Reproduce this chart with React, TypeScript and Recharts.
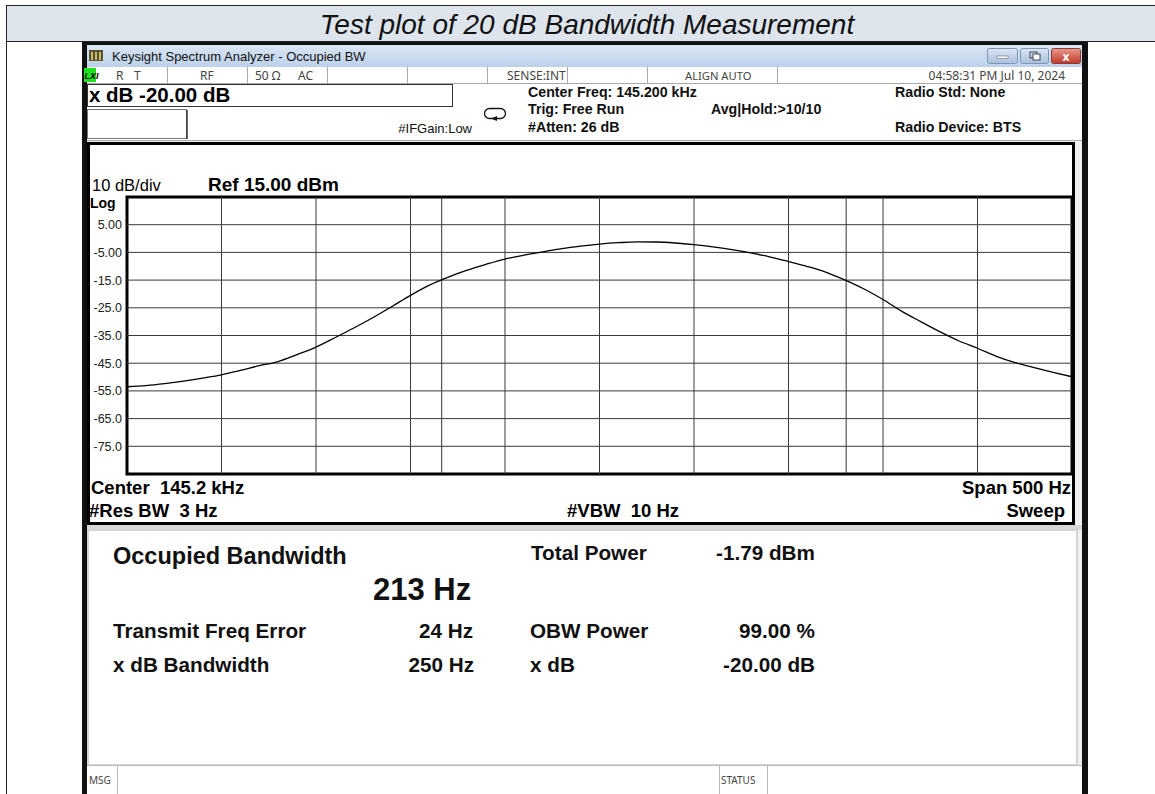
import React from "react";
import { Line, LineChart, ReferenceArea, ReferenceLine, XAxis, YAxis } from "recharts";

// trace (offset from 145.2 kHz centre, Hz -> dBm)
const freqOffsets = [
  -250, -240, -230, -220, -210, -200, -190, -180, -170, -160, -150, -140, -130,
  -120, -110, -100, -90, -80, -70, -60, -50, -40, -30, -20, -10, 0, 10, 20, 30,
  40, 50, 60, 70, 80, 90, 100, 110, 120, 130, 140, 150, 160, 170, 180, 190, 200,
  210, 220, 230, 240, 250,
];
const traceLevels = [
  -53.5, -53.1, -52.4, -51.5, -50.4, -49.2, -47.6, -45.9, -44.4, -41.9, -39.2,
  -35.8, -32.3, -28.6, -24.6, -20.5, -16.8, -13.9, -11.4, -9.3, -7.4, -6.0,
  -4.8, -3.6, -2.7, -2.0, -1.5, -1.2, -1.25, -1.6, -2.2, -3.0, -4.0, -5.2,
  -6.6, -8.3, -10.1, -12.2, -15.0, -18.2, -22.0, -26.3, -30.0, -33.6, -36.9,
  -39.6, -42.5, -44.8, -46.6, -48.3, -49.9,
];

const yTicks = [5, -5, -15, -25, -35, -45, -55, -65, -75];
const yTickLabels = ["5.00", "-5.00", "-15.0", "-25.0", "-35.0", "-45.0", "-55.0", "-65.0", "-75.0"];
const xGrid = [-200, -150, -100, -50, 0, 50, 100, 150, 200];
const obwEdges = [-83.5, 130.5];
const refLevel = 15;
const bottomLevel = -85;
const halfSpan = 250;

const statusSeparators = [167, 247, 327, 407, 487, 567, 647, 777];

const data = freqOffsets.map((f, i) => ({ freq: f, level: traceLevels[i] }));

const ARIAL = '"Liberation Sans", Arial, sans-serif';
const UI = '"Noto Sans", "DejaVu Sans", sans-serif';
const pre = { whiteSpace: "pre" as const };

function Chrome() {
  return (
    <svg width={1155} height={794} style={{ position: "absolute", left: 0, top: 0 }}>
      <defs>
        <linearGradient id="tb" x1="0" y1="0" x2="0" y2="1">
          <stop offset="0" stopColor="#d9e6f4" />
          <stop offset="1" stopColor="#bcd1e9" />
        </linearGradient>
        <linearGradient id="btn" x1="0" y1="0" x2="0" y2="1">
          <stop offset="0" stopColor="#dbe6f3" />
          <stop offset="1" stopColor="#a9c0dc" />
        </linearGradient>
        <linearGradient id="cls" x1="0" y1="0" x2="0" y2="1">
          <stop offset="0" stopColor="#e79a8c" />
          <stop offset="1" stopColor="#c2382a" />
        </linearGradient>
      </defs>
      <rect x={0} y={0} width={1155} height={794} fill="#fff" />

      {/* document title band */}
      <rect x={6.5} y={5.5} width={1160} height={36} fill="#dde4eb" stroke="#222" />
      <text x={587} y={34} textAnchor="middle" fontFamily={ARIAL} fontStyle="italic" fontSize={28} fill="#111">
        Test plot of 20 dB Bandwidth Measurement
      </text>
      <line x1={6.5} y1={42} x2={6.5} y2={794} stroke="#222" />

      {/* analyzer window */}
      <rect x={82} y={42} width={1006} height={760} fill="#f0f0f0" />
      <rect x={82} y={42} width={1006} height={3} fill="#111" />
      <rect x={82} y={42} width={5} height={752} fill="#111" />
      <rect x={1082} y={42} width={6} height={752} fill="#111" />
      <rect x={87} y={45} width={995} height={22} fill="url(#tb)" />
      <rect x={89} y={50} width={14} height={11} fill="#5b5230" />
      <rect x={91} y={52} width={2} height={8} fill="#c9b56a" />
      <rect x={95} y={52} width={2} height={8} fill="#c9b56a" />
      <rect x={99} y={52} width={2} height={8} fill="#c9b56a" />
      <text x={112} y={61} fontFamily={ARIAL} fontSize={13} fill="#111">
        Keysight Spectrum Analyzer - Occupied BW
      </text>
      <rect x={987.5} y={48.5} width={30} height={15} rx={2} fill="url(#btn)" stroke="#7f95b3" />
      <rect x={997} y={56} width={11} height={2.5} fill="#fff" stroke="#556" strokeWidth={0.5} />
      <rect x={1020.5} y={48.5} width={28} height={15} rx={2} fill="url(#btn)" stroke="#7f95b3" />
      <rect x={1030} y={52} width={7} height={6} fill="none" stroke="#445" />
      <rect x={1033} y={54} width={7} height={6} fill="#fff" stroke="#445" />
      <rect x={1051.5} y={48.5} width={29} height={15} rx={2} fill="url(#cls)" stroke="#8e3a30" />
      <text x={1066} y={60.5} textAnchor="middle" fontFamily={UI} fontWeight="bold" fontSize={12} fill="#fff">
        x
      </text>

      {/* status row */}
      <rect x={87} y={67} width={995} height={16} fill="#fff" />
      <line x1={87} y1={83.5} x2={1082} y2={83.5} stroke="#aaa" />
      {statusSeparators.map((x) => (
        <line key={x} x1={x + 0.5} y1={67} x2={x + 0.5} y2={83} stroke="#aaa" />
      ))}
      <rect x={84} y={68} width={12} height={14} fill="#1ee21e" />
      <text x={84.5} y={79} fontFamily={ARIAL} fontStyle="italic" fontWeight="bold" fontSize={9} fill="#000">
        LXI
      </text>
      <g fontFamily={UI} fontSize={12} fill="#444">
        <text x={116} y={80}>R</text>
        <text x={134} y={80}>T</text>
        <text x={200} y={80}>RF</text>
        <text x={255} y={80}>50 Ω</text>
        <text x={298} y={80}>AC</text>
        <text x={507} y={80}>SENSE:INT</text>
        <text x={685} y={80} fontSize={11.2}>ALIGN AUTO</text>
        <text x={1065} y={80} textAnchor="end">04:58:31 PM Jul 10, 2024</text>
      </g>

      {/* header panel */}
      <rect x={87} y={84} width={995} height={57} fill="#fff" />
      <rect x={87.5} y={84.5} width={365} height={22} fill="#fff" stroke="#333" />
      <text x={89} y={102} fontFamily={ARIAL} fontWeight="bold" fontSize={20.5} fill="#000">
        x dB -20.00 dB
      </text>
      <rect x={87.5} y={109.5} width={99} height={29} fill="#fff" stroke="#777" />
      <line x1={187} y1={110} x2={187} y2={139} stroke="#333" strokeWidth={1.5} />
      <text x={472} y={133} textAnchor="end" fontFamily={ARIAL} fontSize={13} fill="#111">
        #IFGain:Low
      </text>
      <rect x={484.5} y={108.5} width={21} height={10} rx={5} fill="none" stroke="#111" strokeWidth={1.3} />
      <path d="M491 118.5 L497 116 L497 121 Z" fill="#111" />
      <g fontFamily={ARIAL} fontWeight="bold" fontSize={14.2} fill="#111">
        <text x={528} y={97}>Center Freq: 145.200 kHz</text>
        <text x={528} y={114}>Trig: Free Run</text>
        <text x={528} y={132}>#Atten: 26 dB</text>
        <text x={711} y={114}>Avg|Hold:&gt;10/10</text>
        <text x={895} y={97}>Radio Std: None</text>
        <text x={895} y={132}>Radio Device: BTS</text>
      </g>
      <line x1={87} y1={140.5} x2={1082} y2={140.5} stroke="#aaa" />

      {/* graph frame */}
      <rect x={88.5} y={143.5} width={985} height={380} fill="#fff" stroke="#000" strokeWidth={3} />
      <text x={92} y={191} fontFamily={ARIAL} fontSize={16.5} fill="#000">10 dB/div</text>
      <text x={208} y={191} fontFamily={ARIAL} fontWeight="bold" fontSize={19} fill="#000">Ref 15.00 dBm</text>
      <text x={90} y={208} fontFamily={ARIAL} fontWeight="bold" fontSize={14} fill="#000">Log</text>
      <g fontFamily={ARIAL} fontWeight="bold" fontSize={18.5} fill="#000">
        <text x={91} y={494} style={pre}>Center  145.2 kHz</text>
        <text x={89} y={517} style={pre}>#Res BW  3 Hz</text>
        <text x={567} y={517} style={pre}>#VBW  10 Hz</text>
        <text x={1071} y={494} textAnchor="end">Span 500 Hz</text>
        <text x={1065} y={517} textAnchor="end">Sweep</text>
      </g>

      {/* results panel */}
      <rect x={87} y={525} width={995} height={5} fill="#d8d8d8" />
      <rect x={88} y={530} width={989} height={235} fill="#fff" stroke="#d4d4d4" strokeWidth={2} />
      <g fontFamily={ARIAL} fontWeight="bold" fill="#111">
        <text x={113} y={564} fontSize={23.5}>Occupied Bandwidth</text>
        <text x={373} y={600} fontSize={31}>213 Hz</text>
        <text x={531} y={560} fontSize={20.7}>Total Power</text>
        <text x={716} y={560} fontSize={20.7}>-1.79 dBm</text>
        <text x={113} y={638} fontSize={20.7}>Transmit Freq Error</text>
        <text x={473} y={638} fontSize={20.7} textAnchor="end">24 Hz</text>
        <text x={530} y={638} fontSize={20.7}>OBW Power</text>
        <text x={815} y={638} fontSize={20.7} textAnchor="end">99.00 %</text>
        <text x={113} y={672} fontSize={20.7}>x dB Bandwidth</text>
        <text x={474} y={672} fontSize={20.7} textAnchor="end">250 Hz</text>
        <text x={530} y={672} fontSize={20.7}>x dB</text>
        <text x={815} y={672} fontSize={20.7} textAnchor="end">-20.00 dB</text>
      </g>

      {/* message bar */}
      <rect x={87} y={766} width={995} height={28} fill="#fff" />
      <line x1={87} y1={765.5} x2={1082} y2={765.5} stroke="#bbb" />
      <line x1={117.5} y1={766} x2={117.5} y2={794} stroke="#bbb" />
      <line x1={719.5} y1={766} x2={719.5} y2={794} stroke="#bbb" />
      <line x1={767.5} y1={766} x2={767.5} y2={794} stroke="#bbb" />
      <text x={89} y={784} fontFamily={UI} fontSize={10} fill="#444">MSG</text>
      <text x={721} y={784} fontFamily={UI} fontSize={10} fill="#444">STATUS</text>
    </svg>
  );
}

export default function App() {
  return (
    <div style={{ position: "absolute", left: 0, top: 0, width: 1155, height: 794, overflow: "hidden" }}>
      <Chrome />
      <div style={{ position: "absolute", left: 87, top: 192 }}>
        <LineChart width={988} height={287} data={data} margin={{ top: 5, right: 3, bottom: 5, left: 0 }}>
          <XAxis dataKey="freq" type="number" domain={[-halfSpan, halfSpan]} hide allowDataOverflow />
          <YAxis
            type="number"
            domain={[bottomLevel, refLevel]}
            ticks={yTicks}
            width={40}
            axisLine={false}
            tickLine={false}
            tickSize={3}
            tickMargin={2}
            interval={0}
            allowDataOverflow
            tickFormatter={(v: number) => yTickLabels[yTicks.indexOf(v)] ?? ""}
            tick={{ fontSize: 12.5, fill: "#222", fontFamily: ARIAL }}
          />
          {yTicks.map((y) => (
            <ReferenceLine key={`h${y}`} y={y} stroke="#3a3a3a" strokeWidth={1} />
          ))}
          {xGrid.map((x) => (
            <ReferenceLine key={`v${x}`} x={x} stroke="#3a3a3a" strokeWidth={1} />
          ))}
          {obwEdges.map((x) => (
            <ReferenceLine key={`o${x}`} x={x} stroke="#333" strokeWidth={1} />
          ))}
          <ReferenceArea
            x1={-halfSpan}
            x2={halfSpan}
            y1={bottomLevel}
            y2={refLevel}
            fill="none"
            fillOpacity={0}
            stroke="#000"
            strokeWidth={3}
          />
          <Line
            dataKey="level"
            type="monotone"
            stroke="#000"
            strokeWidth={1.3}
            dot={false}
            isAnimationActive={false}
          />
        </LineChart>
      </div>
    </div>
  );
}
